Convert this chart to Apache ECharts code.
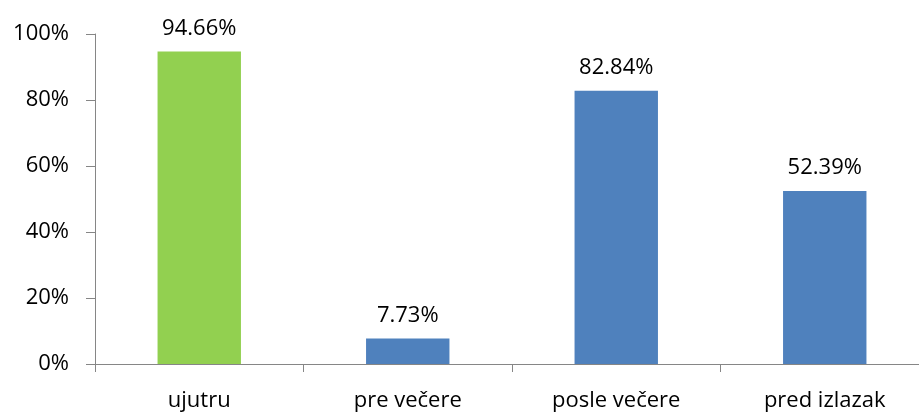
<!DOCTYPE html>
<html>
<head>
<meta charset="utf-8">
<script src="https://cdn.jsdelivr.net/npm/echarts@6/dist/echarts.min.js"></script>
<style>
  html, body { margin: 0; padding: 0; background: #ffffff; overflow: hidden; }
  /* canvas is a little wider than the window so the plot area runs past the right edge */
  #chart { width: 929px; height: 413px; }
</style>
</head>
<body>
<div id="chart"></div>
<script>
// Share of responses per time of day
const categories = ['ujutru', 'pre večere', 'posle večere', 'pred izlazak'];
const values = [94.66, 7.73, 82.84, 52.39];
const barColors = ['#92D050', '#4F81BD', '#4F81BD', '#4F81BD'];
const yTicks = [0, 20, 40, 60, 80, 100];

const FONT = '"Open Sans", "Noto Sans", sans-serif';
const AXIS_GRAY = '#868686';

const chart = echarts.init(document.getElementById('chart'), null, { renderer: 'canvas' });

chart.setOption({
  animation: false,
  backgroundColor: '#ffffff',
  grid: { left: 95, top: 34, bottom: 49, right: 0, containLabel: false },
  xAxis: {
    type: 'category',
    data: categories,
    boundaryGap: true,
    axisLine: { show: true, lineStyle: { color: AXIS_GRAY, width: 1 } },
    axisTick: { show: true, alignWithLabel: false, length: 8, lineStyle: { color: AXIS_GRAY } },
    axisLabel: { color: '#000000', fontFamily: FONT, fontSize: 22, margin: 26 },
    splitLine: { show: false }
  },
  yAxis: {
    type: 'value',
    min: yTicks[0],
    max: yTicks[yTicks.length - 1],
    interval: yTicks[1] - yTicks[0],
    axisLine: { show: true, lineStyle: { color: AXIS_GRAY, width: 1 } },
    axisTick: { show: true, length: 9, lineStyle: { color: AXIS_GRAY } },
    axisLabel: {
      color: '#000000', fontFamily: FONT, fontSize: 22, margin: 26,
      formatter: v => v + '%'
    },
    splitLine: { show: false }
  },
  series: [{
    type: 'bar',
    data: values.map((v, i) => ({ value: v, itemStyle: { color: barColors[i] } })),
    barWidth: '40%',
    label: {
      show: true,
      position: 'top',
      distance: 12,
      color: '#000000',
      fontFamily: FONT,
      fontSize: 22,
      formatter: p => p.value.toFixed(2) + '%'
    }
  }]
});
</script>
</body>
</html>
